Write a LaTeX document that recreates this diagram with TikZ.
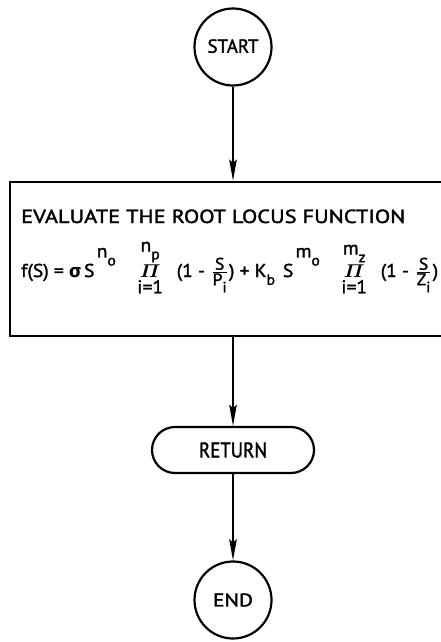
\documentclass[tikz,border=0pt]{standalone}
\usepackage{amsmath}
\usepackage{fontspec}
\setmainfont{PT Sans}[BoldFont={PT Sans},BoldFeatures={FakeBold=1.6}]
\newfontfamily\greekf{Fira Sans}
\usetikzlibrary{arrows.meta}
\newcommand{\lsub}[2]{#1\raisebox{-.42em}{\footnotesize #2}}
\newcommand{\expo}[2]{\hspace{.12em}\raisebox{1.05em}{#1}\raisebox{.62em}{\footnotesize #2}}
\begin{document}
\begin{tikzpicture}[x=1pt,y=1pt,
  every node/.style={font=\bfseries},
  flow/.style={line width=1.8pt,-{Stealth[length=21pt,width=7.5pt,inset=3pt]}},
  term/.style={draw,line width=2.2pt,circle,minimum size=77pt,inner sep=0pt},
  retbox/.style={draw,line width=2.2pt,rounded corners=23pt,minimum width=162pt,minimum height=46pt,inner sep=0pt},
  procbox/.style={draw,line width=2.6pt,minimum width=442pt,minimum height=154pt,inner sep=0pt},
  txt/.style={inner sep=0pt,anchor=base west}]
\useasboundingbox (0,0) rectangle (441,-642);
\fill[white] (0,0) rectangle (441,-642);
\node[term] (start) at (233,-47) {\raisebox{2pt}{\resizebox{51pt}{13.5pt}{START}}};
\node[procbox] (eval) at (231,-259) {};
\node[retbox] (ret) at (233,-450) {\resizebox{68pt}{15pt}{RETURN}};
\node[term] (end) at (233,-600) {\resizebox{40pt}{13pt}{END}};
\node[txt] (title) at (21,-223) {\resizebox{384pt}{13.5pt}{EVALUATE THE ROOT LOCUS FUNCTION}};
\node[txt] (formula) at (21,-277) {\resizebox{417pt}{37pt}{f(S) = {\greekf σ}\,S\expo{n}{o}\hspace{1.1em}$\mathop{\boldsymbol{\varPi}}\limits^{\mbox{\lsub{n}{p}}}_{\mbox{i=1}}$\hspace{.7em}(1 - $\frac{\mbox{\small S}}{\mbox{\small\lsub{P}{i}}}$) + \lsub{K}{b}\hspace{.4em}S\expo{m}{o}\hspace{1.1em}$\mathop{\boldsymbol{\varPi}}\limits^{\mbox{\lsub{m}{z}}}_{\mbox{i=1}}$\hspace{.7em}(1 - $\frac{\mbox{\small S}}{\mbox{\small\lsub{Z}{i}}}$)}};
\draw[flow] (start) -- (start |- eval.north);
\draw[flow] (ret |- eval.south) -- (ret);
\draw[flow] (ret) -- (end);
\end{tikzpicture}
\end{document}
